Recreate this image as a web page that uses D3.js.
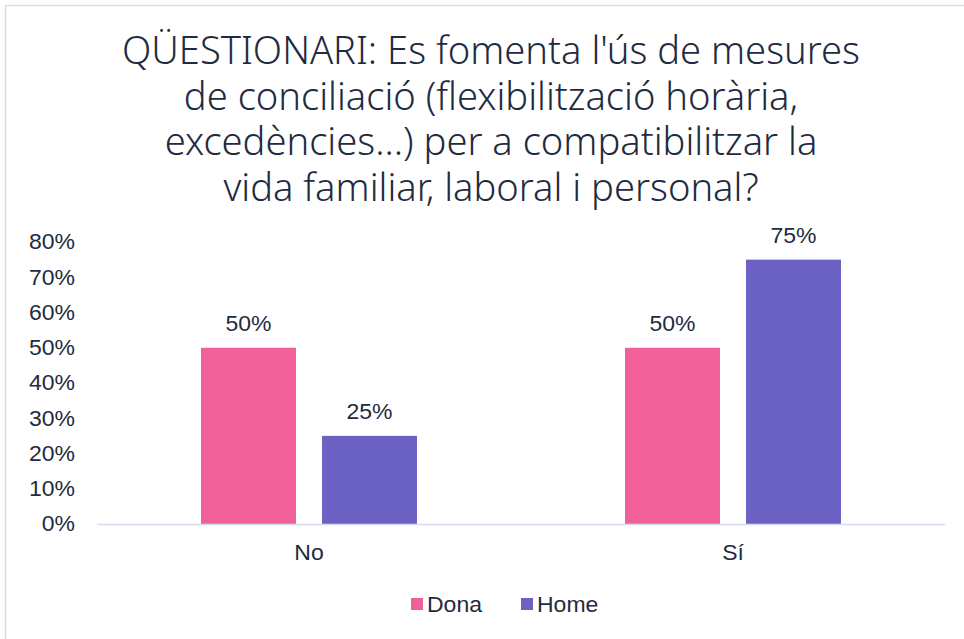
<!DOCTYPE html>
<html>
<head>
<meta charset="utf-8">
<script src="https://cdn.jsdelivr.net/npm/d3@7"></script>
<style>
  html, body { margin: 0; padding: 0; background: #fff; }
  svg { display: block; }
</style>
</head>
<body>
<div id="chart"></div>
<script>
// data
var categories = ["No", "Sí"];
var series = ["Dona", "Home"];
var dona = [0.50, 0.50];
var home = [0.25, 0.75];
var yTicks = [0, 0.1, 0.2, 0.3, 0.4, 0.5, 0.6, 0.7, 0.8];
var titleLines = [
  "QÜESTIONARI: Es fomenta l'ús de mesures",
  "de conciliació (flexibilització horària,",
  "excedències...) per a compatibilitzar la",
  "vida familiar, laboral i personal?"
];

var colors = { Dona: "#f2609a", Home: "#6c62c3" };
var textColor = "#1f2b40";
var labelFont = "'Liberation Sans', Arial, sans-serif";
var labelSize = 21.5;
var stretch = "scale(1.07,1)"; // reference labels are a bit wider than Arial

var width = 964, height = 639;
var svg = d3.select("#chart").append("svg")
  .attr("width", width)
  .attr("height", height);

svg.append("rect")
  .attr("width", width).attr("height", height)
  .attr("fill", "#fff");

// chart frame (right/bottom edges fall outside the picture)
svg.append("rect")
  .attr("x", 5.5).attr("y", 5.5)
  .attr("width", width + 10).attr("height", height + 10)
  .attr("fill", "none")
  .attr("stroke", "#d6dff0")
  .attr("stroke-width", 1.5);

// title
var title = svg.append("g")
  .attr("font-family", "'Noto Sans', sans-serif")
  .attr("font-weight", 300)
  .attr("fill", textColor)
  .attr("text-anchor", "middle");
var tsize = 31;
title.selectAll("text")
  .data(titleLines)
  .join("text")
  .attr("x", 491)
  .attr("y", (d, i) => 64 + i * 45.5)
  .attr("font-size", tsize)
  .text(d => d);
// fit first line width to the reference
var w0 = title.select("text").node().getComputedTextLength();
title.selectAll("text").attr("font-size", tsize * 738 / w0);

var plotL = 97, plotR = 945, plotT = 242, plotB = 524;

var y = d3.scaleLinear().domain([0, 0.8]).range([plotB, plotT]);

var x0 = d3.scaleBand().domain(categories).range([plotL, plotR]);
var groupW = 216;
var x1 = d3.scaleBand().domain(series).range([0, groupW]).paddingInner(26 / 121);
var offset = (x0.bandwidth() - groupW) / 2;

var rows = categories.map((c, i) => ({ cat: c, Dona: dona[i], Home: home[i] }));

// y axis labels
var yAxis = d3.axisLeft(y)
  .tickValues(yTicks)
  .tickFormat(d3.format(".0%"))
  .tickSize(0)
  .tickPadding(0);
var ya = svg.append("g")
  .attr("transform", "translate(75,0)")
  .call(yAxis);
ya.select(".domain").remove();
ya.attr("font-family", labelFont).attr("font-size", labelSize);
ya.selectAll("text")
  .attr("x", 0)
  .attr("transform", stretch)
  .attr("fill", textColor);

// bars
var groups = svg.selectAll("g.cat")
  .data(rows)
  .join("g")
  .attr("class", "cat")
  .attr("transform", d => "translate(" + (x0(d.cat) + offset) + ",0)");

groups.selectAll("rect")
  .data(d => series.map(s => ({ s: s, v: d[s] })))
  .join("rect")
  .attr("x", d => x1(d.s))
  .attr("y", d => y(d.v))
  .attr("width", x1.bandwidth())
  .attr("height", d => plotB - y(d.v))
  .attr("fill", d => colors[d.s]);

groups.selectAll("text")
  .data(d => series.map(s => ({ s: s, v: d[s] })))
  .join("text")
  .attr("transform", d => "translate(" + (x1(d.s) + x1.bandwidth() / 2) + "," + (y(d.v) - 17) + ") " + stretch)
  .attr("text-anchor", "middle")
  .attr("font-family", labelFont)
  .attr("font-size", labelSize)
  .attr("fill", textColor)
  .text(d => d3.format(".0%")(d.v));

// x axis
var xAxis = d3.axisBottom(x0).tickSize(0).tickPadding(0);
var xa = svg.append("g")
  .attr("transform", "translate(0," + plotB + ")")
  .call(xAxis);
xa.attr("font-family", labelFont).attr("font-size", labelSize);
xa.select(".domain")
  .attr("stroke", "#d5dcec")
  .attr("stroke-width", 1.5);
xa.selectAll("text")
  .attr("dy", null)
  .attr("y", 36)
  .attr("transform", stretch)
  .attr("fill", textColor);

// legend
var legendX = [411, 521];
var legend = svg.append("g")
  .selectAll("g")
  .data(series)
  .join("g")
  .attr("transform", (d, i) => "translate(" + legendX[i] + ",598)");
legend.append("rect")
  .attr("width", 12).attr("height", 12)
  .attr("fill", d => colors[d]);
legend.append("text")
  .attr("transform", "translate(16,14) " + stretch)
  .attr("font-family", labelFont)
  .attr("font-size", labelSize)
  .attr("fill", textColor)
  .text(d => d);
</script>
</body>
</html>
